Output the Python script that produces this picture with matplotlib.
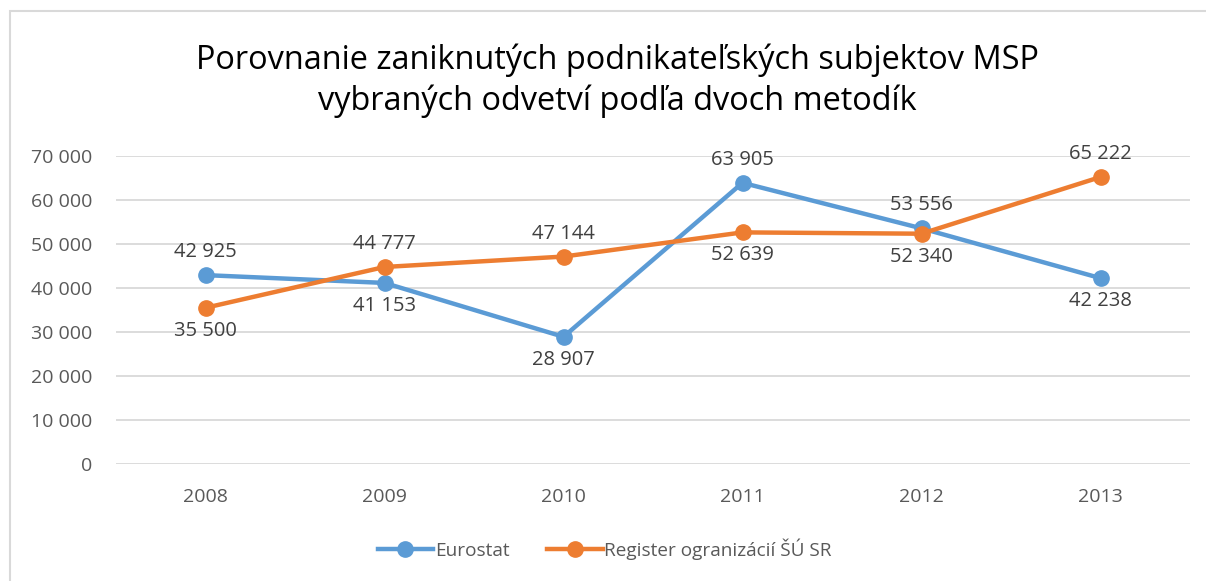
import matplotlib.pyplot as plt
from matplotlib.patches import Rectangle
from matplotlib.ticker import FuncFormatter

years = ['2008', '2009', '2010', '2011', '2012', '2013']
eurostat = [42925, 41153, 28907, 63905, 53556, 42238]
register = [35500, 44777, 47144, 52639, 52340, 65222]
# label placement: 1 = above the point, -1 = below
eurostat_pos = [1, -1, -1, 1, 1, -1]
register_pos = [-1, 1, 1, -1, -1, 1]

plt.rcParams['font.family'] = ['Open Sans', 'DejaVu Sans']

blue = '#5B9BD5'
orange = '#ED7D31'
txt = '#595959'

fig = plt.figure(figsize=(12.06, 5.81), dpi=100)
fig.patches.append(Rectangle((10 / 1206, -0.1), 1.2, 1 - 11 / 581 + 0.1,
                             transform=fig.transFigure, fill=False,
                             edgecolor='#D9D9D9', linewidth=1.5))

ax = fig.add_axes([116 / 1206, 1 - 464 / 581, 1074 / 1206, 308 / 581])
x = range(len(years))
ax.plot(x, eurostat, color=blue, linewidth=3.2, marker='o', markersize=11, label='Eurostat', zorder=3)
ax.plot(x, register, color=orange, linewidth=3.2, marker='o', markersize=11,
        label='Register ogranizácií ŠÚ SR', zorder=3)

def fmt(v):
    return f'{v:,.0f}'.replace(',', ' ')

for vals, pos in [(eurostat, eurostat_pos), (register, register_pos)]:
    for i, (v, p) in enumerate(zip(vals, pos)):
        ax.annotate(fmt(v), (i, v), xytext=(0, 16.5 * p), textcoords='offset points',
                    ha='center', va='center', fontsize=14.5, color='#404040')

ax.set_xlim(-0.5, len(years) - 0.5)
ax.set_ylim(0, 70000)
ax.set_yticks(range(0, 70001, 10000))
ax.yaxis.set_major_formatter(FuncFormatter(lambda v, p: fmt(v)))
ax.set_xticks(list(x))
ax.set_xticklabels(years)
ax.tick_params(length=0, labelsize=14, labelcolor=txt)
ax.tick_params(axis='y', pad=17)
ax.tick_params(axis='x', pad=17)
ax.grid(axis='y', color='#D9D9D9', linewidth=1.3)
ax.set_axisbelow(True)
for s in ax.spines.values():
    s.set_visible(False)

fig.text(0.512, 1 - 81 / 581, 'Porovnanie zaniknutých podnikateľských subjektov MSP\nvybraných odvetví podľa dvoch metodík',
         ha='center', va='center', fontsize=23.4, color='black', linespacing=1.3)

leg = fig.legend(loc='center', bbox_to_anchor=(0.5015, 1 - 549 / 581), ncol=2, frameon=False,
                 fontsize=13.7, handlelength=2.9, handletextpad=0.1, columnspacing=2.0,
                 labelcolor=txt)

fig.savefig('out.png', dpi=100)
